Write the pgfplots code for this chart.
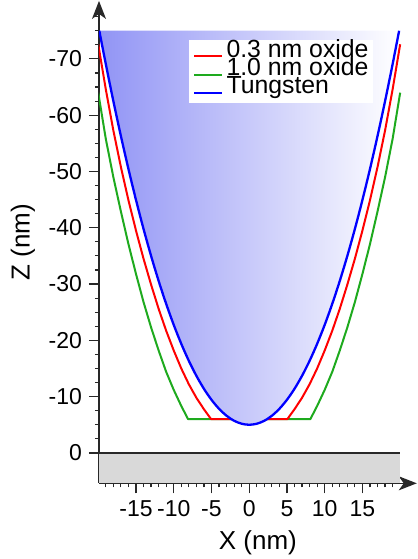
\documentclass[border=0pt]{standalone}
\usepackage{fontspec}
\setmainfont{Liberation Sans}
\usepackage{pgfplots}
\pgfplotsset{compat=1.18}
\usetikzlibrary{arrows.meta,calc}
\definecolor{tipL}{RGB}{145,148,245}
\definecolor{ox3}{RGB}{255,0,0}
\definecolor{ox10}{RGB}{30,170,30}
\definecolor{tung}{RGB}{0,0,255}
\definecolor{axgray}{RGB}{40,40,40}
\definecolor{subst}{RGB}{217,217,217}

\begin{document}
\begin{tikzpicture}
\begin{axis}[
  scale only axis,
  width=158.9pt, height=241.2pt,
  xmin=-19.9, xmax=22.2,
  ymin=-80.3, ymax=5.4,
  y dir=reverse,
  axis x line=bottom, axis y line=left,
  axis line style={draw=axgray, line width=0.75pt},
  x axis line style={-{Stealth[length=9pt,width=7pt,inset=2.5pt]}},
  y axis line style={{Stealth[length=9pt,width=7pt,inset=2.5pt]}-},
  xtick={-15,-10,...,15}, ytick={-70,-60,...,0},
  minor xtick={-19,-18,...,19}, minor ytick={-77.5,-75,...,0},
  tick align=outside, major tick length=5pt, minor tick length=2pt,
  tick style={axgray, line width=0.6pt},
  ticklabel style={font=\fontsize{11.5}{13}\selectfont},
  /pgf/number format/assume math mode=true,
  xlabel={X (nm)}, ylabel={Z (nm)},
  label style={font=\fontsize{13}{15}\selectfont},
  legend style={at={(0.862,0.920)}, anchor=north east, draw=none, fill=white,
    inner sep=2pt, font=\fontsize{12.4}{9}\selectfont, row sep=0pt,
    nodes={inner sep=0pt, text height=6.6pt, text depth=2.55pt},
    /tikz/every odd column/.style={column sep=1.5pt}},
  legend cell align=left,
  legend image code/.code={\draw[#1] (0pt,-1.6pt) -- (14pt,-1.6pt);},
]
% substrate below Z = 0
\addplot[draw=none, fill=subst, forget plot]
  coordinates {(-19.9,0) (20,0) (20,5.4) (-19.9,5.4)} -- cycle;
\addplot[axgray, line width=1pt, forget plot]
  coordinates {(-19.9,0) (20,0)};

% 1.0 nm oxide (drawn first so red lies over it)
\addplot[ox10, line width=1pt, line join=round, forget plot] coordinates {
  (-20,-64.0) (-19,-55.8) (-18,-49.0) (-17,-42.9) (-16,-37.1) (-15,-31.8)
  (-14,-26.8) (-13,-22.3) (-12,-18.2) (-11,-14.4) (-10,-11.2) (-9,-8.34)
  (-8.1,-6.0) (8.1,-6.0) (9,-8.34) (10,-11.2) (11,-14.4) (12,-18.2)
  (13,-22.3) (14,-26.8) (15,-31.8) (16,-37.1) (17,-42.9) (18,-49.0)
  (19,-55.8) (20,-64.0)};

% 0.3 nm oxide
\addplot[ox3, line width=1pt, line join=round] coordinates {
  (-20,-72.6) (-19,-64.6) (-18,-57.3) (-17,-50.8) (-16,-44.9) (-15,-39.5)
  (-14,-34.5) (-13,-29.9) (-12,-25.6) (-11,-21.7) (-10,-18.2) (-9,-15.0)
  (-8,-12.2) (-7,-9.8) (-6,-7.76) (-5.05,-6.0) (5.05,-6.0) (6,-7.76)
  (7,-9.8) (8,-12.2) (9,-15.0) (10,-18.2) (11,-21.7) (12,-25.6)
  (13,-29.9) (14,-34.5) (15,-39.5) (16,-44.9) (17,-50.8) (18,-57.3)
  (19,-64.6) (20,-72.6)};
\addlegendentry{0.3 nm oxide}
\addlegendimage{ox10, line width=1pt}
\addlegendentry{1.0 nm oxide}

% tungsten tip body
\addplot[draw=none, left color=tipL, right color=white, forget plot] coordinates {
  (-19.86,-75.0) (-19,-69.08) (-18,-62.51) (-17,-56.30) (-16,-50.44) (-15,-44.94)
  (-14,-39.79) (-13,-35.00) (-12,-30.56) (-11,-26.48) (-10,-22.75) (-9,-19.38)
  (-8,-16.36) (-7,-13.70) (-6,-11.39) (-5,-9.44) (-4,-7.84) (-3,-6.60)
  (-2,-5.71) (-1,-5.18) (0,-5.00) (1,-5.18) (2,-5.71) (3,-6.60) (4,-7.84)
  (5,-9.44) (6,-11.39) (7,-13.70) (8,-16.36) (9,-19.38) (10,-22.75)
  (11,-26.48) (12,-30.56) (13,-35.00) (14,-39.79) (15,-44.94) (16,-50.44)
  (17,-56.30) (18,-62.51) (19,-69.08) (19.86,-75.0)} -- cycle;
\addplot[tung, line width=1.15pt, line join=round, smooth] coordinates {
  (-19.86,-75.0) (-19,-69.08) (-18,-62.51) (-17,-56.30) (-16,-50.44) (-15,-44.94)
  (-14,-39.79) (-13,-35.00) (-12,-30.56) (-11,-26.48) (-10,-22.75) (-9,-19.38)
  (-8,-16.36) (-7,-13.70) (-6,-11.39) (-5,-9.44) (-4,-7.84) (-3,-6.60)
  (-2,-5.71) (-1,-5.18) (0,-5.00) (1,-5.18) (2,-5.71) (3,-6.60) (4,-7.84)
  (5,-9.44) (6,-11.39) (7,-13.70) (8,-16.36) (9,-19.38) (10,-22.75)
  (11,-26.48) (12,-30.56) (13,-35.00) (14,-39.79) (15,-44.94) (16,-50.44)
  (17,-56.30) (18,-62.51) (19,-69.08) (19.86,-75.0)};
\addlegendentry{Tungsten}

\coordinate (bl) at (axis cs:-19.9,5.4);
\end{axis}
\pgfresetboundingbox
\path ($(bl)+(-49.5pt,-37.85pt)$) rectangle ++(209pt,279.5pt);
\end{tikzpicture}
\end{document}
